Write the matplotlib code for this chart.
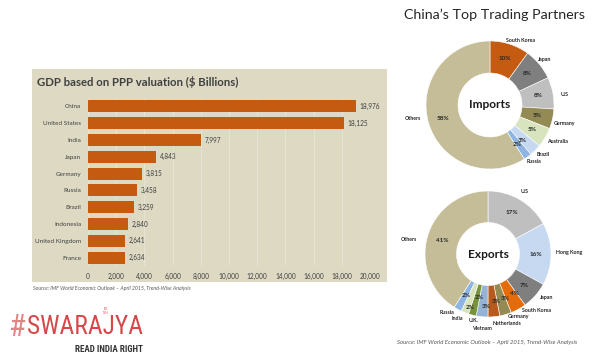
import numpy as np
import matplotlib.pyplot as plt
from matplotlib import font_manager
from matplotlib.patches import Rectangle

# --- data ---
countries = ["China", "United States", "India", "Japan", "Germany",
             "Russia", "Brazil", "Indonesia", "United Kingdom", "France"]
gdp_ppp = [18976, 18125, 7997, 4843, 3815, 3458, 3259, 2840, 2641, 2634]
gdp_ticks = [0, 2000, 4000, 6000, 8000, 10000, 12000, 14000, 16000, 18000, 20000]

imp_labels = ["South Korea", "Japan", "U.S", "Germany", "Australia", "Brazil", "Russia", "Others"]
imp_share = [10, 8, 8, 5, 5, 3, 2, 59]
imp_colors = ["#C55A11", "#7F7F7F", "#BFBFBF", "#948A54", "#D7E4BD", "#C6D9F1", "#8DB4E2", "#C4BD97"]

exp_labels = ["U.S", "Hong Kong", "Japan", "South Korea", "Germany", "Netherlands",
              "Vietnam", "U.K.", "India", "Russia", "Others"]
exp_share = [17, 16, 7, 4, 3, 3, 3, 2, 2, 2, 41]
exp_colors = ["#BFBFBF", "#C6D9F1", "#7F7F7F", "#E46C0A", "#948A54", "#B65A1E",
              "#95B3D7", "#77933C", "#D7E4BD", "#8DB4E2", "#C4BD97"]

# label layout (angle shift in degrees, radius) so the small slices don't collide
imp_lab_shift = [-7, 0, -3, -1, 2, 2, 2, -6]
imp_lab_rad = [1.12, 1.11, 1.18, 1.20, 1.20, 1.13, 1.12, 1.22]
imp_pct_shift = [0, 0, 0, 0, 0, -2, -2, 0]
imp_pct_rad = [0.76, 0.76, 0.76, 0.76, 0.76, 0.75, 0.75, 0.76]
exp_lab_shift = [0, 1, 5, 12, 10, 10, 1, 2, -4, -6, 6]
exp_lab_rad = [1.15, 1.28, 1.16, 1.18, 1.11, 1.15, 1.19, 1.08, 1.13, 1.13, 1.28]
exp_pct_shift = [0, 0, 0, 5, 5, 4, 4, 3, 3, 1, 0]
exp_pct_rad = [0.76, 0.76, 0.76, 0.76, 0.75, 0.76, 0.84, 0.71, 0.89, 0.75, 0.76]

W, H = 610, 360
plt.rcParams['font.family'] = ['Lato', 'DejaVu Sans']

# condensed face for the logo, if one is installed
names = {f.name for f in font_manager.fontManager.ttflist}
logo_font = ["DejaVu Sans"]
logo_stretch = "normal"
for cand in ["Liberation Sans Narrow", "Roboto Condensed", "Open Sans Condensed", "DejaVu Sans"]:
    if cand in names:
        logo_font = [cand, "DejaVu Sans"]
        if cand == "DejaVu Sans":
            logo_stretch = "condensed"
        break

fig = plt.figure(figsize=(W / 100, H / 100), dpi=100)
fig.patch.set_facecolor("white")


def px(x0, y0, x1, y1):
    # pixel box (top-left origin) -> figure fraction rect
    return [x0 / W, 1 - y1 / H, (x1 - x0) / W, (y1 - y0) / H]


# beige panel behind the bar chart
fig.patches.append(Rectangle((32 / W, 1 - 282 / H), 355 / W, 213 / H,
                             transform=fig.transFigure, facecolor="#DDD9C3",
                             edgecolor="none", zorder=-5))
fig.text(37 / W, 1 - 82 / H, "GDP based on PPP valuation ($ Billions)",
         fontsize=8.2, fontweight="bold", color="#404040", va="center")

ax = fig.add_axes(px(88, 98, 370, 266))
ax.set_facecolor("none")
ypos = list(range(len(countries)))
ax.barh(ypos, gdp_ppp, height=0.72, color="#C55A11", zorder=3)
for y, v in zip(ypos, gdp_ppp):
    ax.text(v + 250, y, f"{v:,}", va="center", ha="left", fontsize=4.7, color="#404040")
ax.set_yticks(ypos)
ax.set_yticklabels(countries, fontsize=4.6, color="#404040")
ax.set_xticks(gdp_ticks)
ax.set_xticklabels([f"{t:,}" for t in gdp_ticks], fontsize=4.7, color="#404040")
ax.set_xlim(0, 20000)
ax.set_ylim(9.5, -0.5)
ax.grid(axis="x", color="#E9E6D8", linewidth=0.6, zorder=0)
ax.tick_params(axis="y", length=0, pad=5)
ax.tick_params(axis="x", length=0, pad=5)
for s in ax.spines.values():
    s.set_visible(False)

fig.text(33 / W, 1 - 288 / H, "Source: IMF World Economic Outlook \u2013 April 2015, Trend-Wise Analysis",
         fontsize=3.8, style="italic", color="#595959", va="center")

# right side: donuts
fig.text(494 / W, 1 - 15 / H, "China\u2019s Top Trading Partners", fontsize=10.3,
         color="#262626", ha="center", va="center")


def donut(cx, cy, r, shares, labels, colors, title, shifts, rads, pshifts, prads):
    a = fig.add_axes(px(cx - r, cy - r, cx + r, cy + r))
    wedges, texts, autotexts = a.pie(
        shares, labels=labels, colors=colors, startangle=90, counterclock=False,
        radius=1, wedgeprops=dict(width=0.5, edgecolor="white", linewidth=0.4),
        autopct="%d%%", pctdistance=0.75,
        textprops=dict(fontsize=3.8, color="#262626", fontweight="bold"))
    for w, t, pt, sh, rd, psh, prd in zip(wedges, texts, autotexts, shifts, rads, pshifts, prads):
        mid = (w.theta1 + w.theta2) / 2
        ang = np.deg2rad(mid + sh)
        t.set_position((rd * np.cos(ang), rd * np.sin(ang)))
        t.set_ha("center")
        t.set_va("center")
        pang = np.deg2rad(mid + psh)
        pt.set_position((prd * np.cos(pang), prd * np.sin(pang)))
        pt.set_fontsize(4.6)
        pt.set_fontweight("bold")
    a.text(0, 0, title, ha="center", va="center", fontsize=8.6, fontweight="bold", color="#1A1A1A")
    a.set_xlim(-1, 1)
    a.set_ylim(-1, 1)
    a.set_aspect("equal")
    return a


donut(490, 105, 64, imp_share, imp_labels, imp_colors, "Imports",
      imp_lab_shift, imp_lab_rad, imp_pct_shift, imp_pct_rad)
donut(488, 254, 63, exp_share, exp_labels, exp_colors, "Exports",
      exp_lab_shift, exp_lab_rad, exp_pct_shift, exp_pct_rad)

fig.text(397 / W, 1 - 342 / H, "Source: IMF World Economic Outlook \u2013 April 2015, Trend-Wise Analysis",
         fontsize=4.3, style="italic", color="#595959", va="center")

# logo: fit text widths to the reference
renderer = fig.canvas.get_renderer()


def fit(t, width_px):
    bb = t.get_window_extent(renderer)
    t.set_fontsize(t.get_fontsize() * width_px / bb.width)


hash_t = fig.text(9 / W, 1 - 327 / H, "#", fontsize=27, color="#E08585", va="center",
                  family=logo_font, fontstretch=logo_stretch)
fit(hash_t, 17)
sw = fig.text(143 / W, 1 - 327 / H, "SWARAJYA", fontsize=27, color="#D5484A", va="center",
              ha="right", family=logo_font, fontstretch=logo_stretch)
fit(sw, 116)
fig.text(106 / W, 1 - 311 / H, "EST.\n1956", fontsize=1.8, color="#D5484A", ha="center",
         va="center", linespacing=0.9)
rr = fig.text(143 / W, 1 - 349 / H, "READ INDIA RIGHT", fontsize=7.5, fontweight="bold",
              color="#333333", ha="right", va="center", family=logo_font, fontstretch=logo_stretch)
fit(rr, 68)

fig.savefig("out.png", dpi=100)
